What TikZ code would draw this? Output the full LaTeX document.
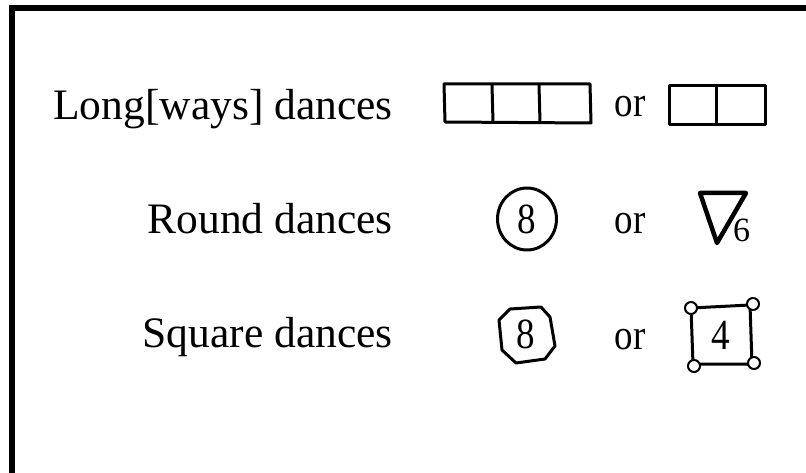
\documentclass[tikz,border=0pt]{standalone}
\usepackage{fontspec}
\usepackage{graphicx}
\setmainfont{Liberation Serif}
\newcommand{\narrowtxt}[1]{\scalebox{0.86}[1]{#1}}
\begin{document}
\begin{tikzpicture}[x=1pt,y=-1pt,
  lbl/.style={anchor=base east, inner sep=0pt, font=\fontsize{43.5}{50}\selectfont},
  ortext/.style={anchor=base, inner sep=0pt, font=\fontsize{43}{50}\selectfont},
  inner/.style={anchor=base, inner sep=0pt, font=\fontsize{43}{50}\selectfont},
  sub/.style={anchor=base west, inner sep=0pt, font=\fontsize{34}{38}\selectfont},
  cell/.style={line width=3pt, line join=round},
  frame/.style={line width=6pt, line join=miter}]
\useasboundingbox (0,0) rectangle (806,473);
\draw[frame] (12,476) -- (12,8) -- (810,8);
% labels
\node[lbl] (long) at (393,120) {Long[ways] dances};
\node[lbl] (round) at (393,234) {Round dances};
\node[lbl] (square) at (393,347) {Square dances};
% row 1
\draw[cell] (444,84) -- (590,84) -- (591,123) -- (445,122) -- cycle;
\draw[cell] (492,85) -- (493,122);
\draw[cell] (539,85) -- (540,122);
\node[ortext] (or1) at (630,117) {\narrowtxt{or}};
\draw[cell] (669,86) -- (765,86) -- (765,125) -- (669,125) -- cycle;
\draw[cell] (716,87) -- (716,125);
% row 2
\draw[cell] (527,219) ellipse [x radius=29.5, y radius=31];
\node[inner] (eight1) at (527,234) {\narrowtxt{8}};
\node[ortext] (or2) at (630,234) {\narrowtxt{or}};
\draw[line width=4.5pt, line join=round, line cap=round] (700,193) -- (746,193) -- (717,243) -- cycle;
\node[sub] (six) at (733,242) {6};
% row 3
\draw[cell] (499,320) -- (510,309) -- (541,307) -- (550,317) -- (555,346) -- (545,359) -- (516,363) -- (502,350) -- cycle;
\node[inner] (eight2) at (526,348) {\narrowtxt{8}};
\node[ortext] (or3) at (630,349) {\narrowtxt{or}};
\draw[cell] (691,308) -- (750,305) -- (752,364) -- (693,364) -- cycle;
\node[inner] (four) at (721,349) {\narrowtxt{4}};
\foreach \p in {(691,308),(753,304),(694,366),(754,363)}
  \draw[line width=2pt, fill=white] \p circle (6);
\end{tikzpicture}
\end{document}
